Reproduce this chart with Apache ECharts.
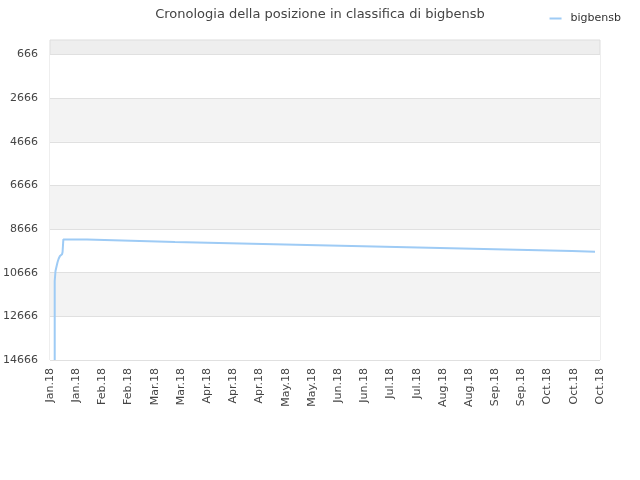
<!DOCTYPE html>
<html>
<head>
<meta charset="utf-8">
<script src="https://cdn.jsdelivr.net/npm/echarts@6/dist/echarts.min.js"></script>
<style>html,body{margin:0;padding:0;background:#fff}#c{width:640px;height:480px}</style>
</head>
<body>
<div id="c"></div>
<script>
// x tick labels (one per tick position 0..21)
var xLabels = ['Jan.18','Jan.18','Feb.18','Feb.18','Mar.18','Mar.18','Apr.18','Apr.18','Apr.18','May.18','May.18','Jun.18','Jun.18','Jul.18','Jul.18','Aug.18','Aug.18','Sep.18','Sep.18','Oct.18','Oct.18','Oct.18'];
// y tick labels (ranking positions)
var yTicks = [666, 2666, 4666, 6666, 8666, 10666, 12666, 14666];
// series: position along the x ticks where each ranking starts, and ranking
var posX = [0.18, 0.21, 0.26, 0.29, 0.33, 0.38, 0.42, 0.46, 0.48, 0.51, 1.41, 3.09, 4.77, 6.45, 8.13, 9.81, 11.53, 13.21, 14.89, 16.57, 18.25, 19.93, 20.81];
var rank = [11045, 10587, 10326, 10175, 10023, 9900, 9822, 9762, 9716, 9140, 9200, 9258, 9304, 9350, 9395, 9441, 9487, 9533, 9579, 9625, 9670, 9702, 9702];
var startRank = 14666;

// build the step path (value holds until next point, then jumps)
var data = [[posX[0], startRank]];
for (var i = 0; i < posX.length; i++) {
  if (i > 0) data.push([posX[i], rank[i - 1]]);
  data.push([posX[i], rank[i]]);
}

var chart = echarts.init(document.getElementById('c'));
chart.setOption({
  animation: false,
  title: {
    text: 'Cronologia della posizione in classifica di bigbensb',
    left: 'center', top: 3,
    textStyle: { fontSize: 13, fontWeight: 'normal', color: '#444', fontFamily: 'DejaVu Sans' }
  },
  legend: {
    right: 14, top: 8,
    icon: 'rect', itemWidth: 12, itemHeight: 2, itemGap: 10,
    textStyle: { fontSize: 11, color: '#333', fontFamily: 'DejaVu Sans', padding: [0, 0, 0, 4] },
    data: ['bigbensb']
  },
  grid: {
    left: 50, right: 40, top: 40, bottom: 120, outerBoundsMode: 'none', containLabel: false,
    show: true, borderColor: '#dddddd', borderWidth: 1, backgroundColor: '#eeeeee'
  },
  xAxis: {
    type: 'value', min: 0, max: 21, interval: 1,
    axisLine: { show: false }, axisTick: { show: false }, splitLine: { show: false },
    axisLabel: {
      rotate: 90, fontSize: 11, color: '#444', fontFamily: 'DejaVu Sans', margin: 8,
      formatter: function (v) { return xLabels[Math.round(v)] || ''; }
    }
  },
  yAxis: {
    type: 'value', inverse: true, min: 0, max: 14666,
    axisLine: { show: false },
    axisTick: { show: false, customValues: yTicks },
    axisLabel: {
      customValues: yTicks, fontSize: 11, color: '#444', fontFamily: 'DejaVu Sans', margin: 12,
      formatter: function (v) { return String(v); }
    },
    splitLine: { show: true, lineStyle: { color: '#e0e0e0' } },
    splitArea: { show: true, areaStyle: { color: ['#ffffff', '#f3f3f3'] } }
  },
  series: [{
    name: 'bigbensb', type: 'line', showSymbol: false,
    data: data,
    lineStyle: { color: '#9ecbf5', width: 2 },
    itemStyle: { color: '#9ecbf5' }
  }]
});
</script>
</body>
</html>
